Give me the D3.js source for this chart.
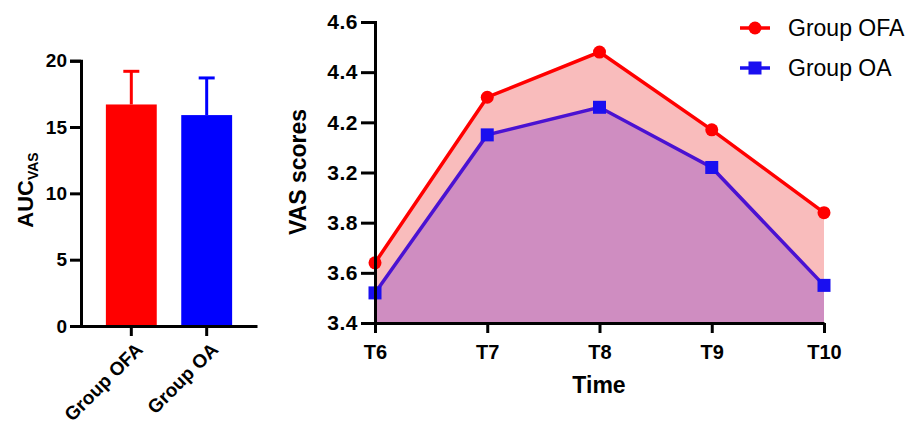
<!DOCTYPE html>
<html>
<head>
<meta charset="utf-8">
<script src="https://cdn.jsdelivr.net/npm/d3@7"></script>
<style>
  body { margin: 0; background: #fff; }
  text { font-family: "Liberation Sans", Arial, sans-serif; }
</style>
</head>
<body>
<svg id="chart" width="917" height="430"></svg>
<script>
// left panel data
let groups = ["Group OFA", "Group OA"];
let aucMeans = [16.7, 15.9];
let aucErr = [2.5, 2.8];
let aucTicks = [0, 5, 10, 15, 20];

// right panel data
let times = ["T6", "T7", "T8", "T9", "T10"];
let vasOFA = [3.64, 4.30, 4.48, 4.17, 3.84];
let vasOA = [3.52, 4.15, 4.26, 4.02, 3.55];
let vasTicks = [3.4, 3.6, 3.8, 4.0, 4.2, 4.4, 4.6];
let vasTickLabels = ["3.4", "3.6", "3.8", "3.2", "4.2", "4.4", "4.6"];

let svg = d3.select("#chart");
let barColors = ["#ff0000", "#0000ff"];

// ---------- left: bar chart ----------
let xBar = d3.scaleBand().domain(groups).range([81, 257])
    .paddingInner(0.325).paddingOuter(0.33);
let yBar = d3.scaleLinear().domain([0, 20]).range([326, 60.7]);

let gL = svg.append("g");

gL.selectAll(".err").data(groups).enter().append("line")
    .attr("x1", d => xBar(d) + xBar.bandwidth() / 2)
    .attr("x2", d => xBar(d) + xBar.bandwidth() / 2)
    .attr("y1", (d, i) => yBar(aucMeans[i]))
    .attr("y2", (d, i) => yBar(aucMeans[i] + aucErr[i]))
    .attr("stroke", (d, i) => barColors[i]).attr("stroke-width", 3);
gL.selectAll(".cap").data(groups).enter().append("line")
    .attr("x1", d => xBar(d) + xBar.bandwidth() / 2 - 8)
    .attr("x2", d => xBar(d) + xBar.bandwidth() / 2 + 8)
    .attr("y1", (d, i) => yBar(aucMeans[i] + aucErr[i]))
    .attr("y2", (d, i) => yBar(aucMeans[i] + aucErr[i]))
    .attr("stroke", (d, i) => barColors[i]).attr("stroke-width", 3);

gL.selectAll("rect").data(groups).enter().append("rect")
    .attr("x", d => xBar(d))
    .attr("y", (d, i) => yBar(aucMeans[i]))
    .attr("width", xBar.bandwidth())
    .attr("height", (d, i) => yBar(0) - yBar(aucMeans[i]))
    .attr("fill", (d, i) => barColors[i]);

let yAxL = gL.append("g").attr("transform", "translate(81,0)")
    .call(d3.axisLeft(yBar).tickValues(aucTicks).tickSize(11).tickPadding(3));
let xAxL = gL.append("g").attr("transform", "translate(0,326)")
    .call(d3.axisBottom(xBar).tickSize(10).tickSizeOuter(0).tickFormat(""));

xAxL.selectAll(".tick").append("text")
    .attr("class", "rot")
    .attr("fill", "#000")
    .attr("transform", "translate(8,20) rotate(-45)")
    .attr("text-anchor", "end")
    .attr("dy", "0.35em")
    .text(d => d);

svg.append("text")
    .attr("transform", "translate(33,190) rotate(-90)")
    .attr("text-anchor", "middle")
    .style("font-size", "22px").style("font-weight", "bold")
    .html('AUC<tspan font-size="14px" dy="5">VAS</tspan>');

// ---------- right: line/area chart ----------
let xT = d3.scalePoint().domain(times).range([375, 824]);
let yV = d3.scaleLinear().domain([3.4, 4.6]).range([323, 22]);

let gR = svg.append("g");

let area = d3.area().x((d, i) => xT(times[i])).y0(yV(3.4)).y1(d => yV(d));
let line = d3.line().x((d, i) => xT(times[i])).y(d => yV(d));

gR.append("path").datum(vasOFA).attr("d", area).attr("fill", "#f9bcbc");
gR.append("path").datum(vasOA).attr("d", area).attr("fill", "#cf8dc1");

gR.append("path").datum(vasOFA).attr("d", line)
    .attr("fill", "none").attr("stroke", "#ff0000").attr("stroke-width", 3.5);
gR.append("path").datum(vasOA).attr("d", line)
    .attr("fill", "none").attr("stroke", "#4a12d2").attr("stroke-width", 3.5);

gR.selectAll(".dotOFA").data(vasOFA).enter().append("circle")
    .attr("cx", (d, i) => xT(times[i])).attr("cy", d => yV(d))
    .attr("r", 6.5).attr("fill", "#ff0000");
gR.selectAll(".dotOA").data(vasOA).enter().append("rect")
    .attr("x", (d, i) => xT(times[i]) - 6.5).attr("y", d => yV(d) - 6.5)
    .attr("width", 13).attr("height", 13).attr("fill", "#1a0ff0");

let yAxR = gR.append("g").attr("transform", "translate(375,0)")
    .call(d3.axisLeft(yV).tickValues(vasTicks).tickSize(14).tickPadding(3)
        .tickFormat((d, i) => vasTickLabels[i]));
let xAxR = gR.append("g").attr("transform", "translate(0,323)")
    .call(d3.axisBottom(xT).tickSize(10).tickSizeOuter(0).tickPadding(12));

svg.append("text")
    .attr("transform", "translate(306,172) rotate(-90)")
    .attr("text-anchor", "middle")
    .style("font-size", "23px").style("font-weight", "bold")
    .text("VAS scores");
svg.append("text")
    .attr("x", 599).attr("y", 393)
    .attr("text-anchor", "middle")
    .style("font-size", "23px").style("font-weight", "bold")
    .text("Time");

// axes styling
svg.selectAll(".domain, .tick line").attr("stroke", "#000").attr("stroke-width", 3);
svg.selectAll(".tick text").attr("fill", "#000").style("font-weight", "bold");
yAxL.selectAll(".tick text").style("font-size", "19px");
xAxL.selectAll(".tick text").style("font-size", "19px");
yAxR.selectAll(".tick text").style("font-size", "21px").style("letter-spacing", "0.5px");
xAxR.selectAll(".tick text").style("font-size", "20px");

// legend
let legend = [
  { name: "Group OFA", color: "#ff0000", shape: "circle" },
  { name: "Group OA", color: "#1a0ff0", shape: "square" }
];
let lg = svg.append("g").selectAll("g").data(legend).enter().append("g")
    .attr("transform", (d, i) => "translate(740," + (28 + i * 40) + ")");
lg.append("line").attr("x1", 0).attr("x2", 30)
    .attr("stroke", d => d.color).attr("stroke-width", 3.5);
lg.filter(d => d.shape === "circle").append("circle")
    .attr("cx", 15).attr("r", 6.5).attr("fill", d => d.color);
lg.filter(d => d.shape === "square").append("rect")
    .attr("x", 8.5).attr("y", -6.5).attr("width", 13).attr("height", 13)
    .attr("fill", d => d.color);
lg.append("text").attr("x", 48).attr("dy", "0.35em")
    .style("font-size", "23px").text(d => d.name);
</script>
</body>
</html>
